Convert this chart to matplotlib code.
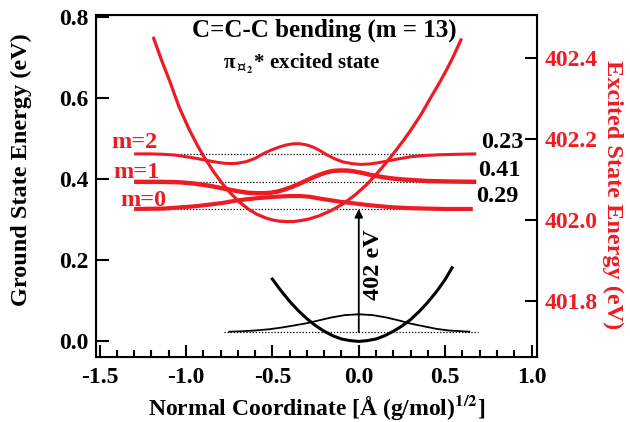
import numpy as np
import matplotlib
matplotlib.use('Agg')
import matplotlib.pyplot as plt

plt.rcParams['font.family'] = ['Liberation Serif', 'DejaVu Serif']
plt.rcParams['font.weight'] = 'bold'
plt.rcParams['axes.labelweight'] = 'bold'
plt.rcParams['mathtext.fontset'] = 'stix'
plt.rcParams['lines.solid_joinstyle'] = 'round'

red = '#ed1c24'

#Excited state potential (left axis units, eV)
x_exc = [-1.19, -1.14, -1.09, -1.04, -0.98, -0.93, -0.89, -0.84, -0.79, -0.74, -0.69, -0.64,
         -0.59, -0.54, -0.50, -0.46, -0.42, -0.38, -0.34, -0.29, -0.23, -0.16, -0.09, -0.02,
         0.05, 0.10, 0.16, 0.21, 0.26, 0.30, 0.36, 0.43, 0.47, 0.51, 0.55, 0.595]
y_exc = [0.751, 0.692, 0.637, 0.578, 0.521, 0.480, 0.451, 0.418, 0.389, 0.364, 0.343, 0.326,
         0.313, 0.304, 0.299, 0.296, 0.295, 0.295, 0.297, 0.301, 0.309, 0.322, 0.339, 0.361,
         0.388, 0.411, 0.441, 0.468, 0.496, 0.520, 0.559, 0.611, 0.640, 0.671, 0.705, 0.747]

#Vibrational levels of the excited state
lev = [0.326, 0.393, 0.462]
lev_names = ['m=0', 'm=1', 'm=2']
lev_fc = ['0.29', '0.41', '0.23']

x_m0 = [-1.30, -1.13, -1.03, -0.94, -0.86, -0.785, -0.72, -0.65, -0.58, -0.515, -0.45, -0.40,
        -0.34, -0.28, -0.23, -0.17, -0.11, -0.03, 0.045, 0.12, 0.20, 0.30, 0.39, 0.50, 0.66]
y_m0 = [0.326, 0.327, 0.330, 0.333, 0.337, 0.341, 0.346, 0.350, 0.353, 0.355, 0.357, 0.358,
        0.358, 0.356, 0.352, 0.348, 0.344, 0.340, 0.336, 0.333, 0.330, 0.328, 0.327, 0.326, 0.326]

x_m1 = [-1.30, -1.15, -1.04, -0.98, -0.92, -0.86, -0.80, -0.74, -0.69, -0.64, -0.59, -0.55,
        -0.51, -0.47, -0.43, -0.39, -0.35, -0.31, -0.27, -0.23, -0.19, -0.15, -0.11, -0.07,
        -0.03, 0.02, 0.07, 0.12, 0.18, 0.25, 0.32, 0.40, 0.50, 0.68]
y_m1 = [0.393, 0.393, 0.392, 0.390, 0.387, 0.383, 0.378, 0.373, 0.369, 0.366, 0.365, 0.365,
        0.366, 0.369, 0.374, 0.380, 0.387, 0.395, 0.403, 0.410, 0.416, 0.420, 0.421, 0.421,
        0.419, 0.415, 0.410, 0.406, 0.402, 0.399, 0.397, 0.395, 0.394, 0.393]

x_m2 = [-1.30, -1.20, -1.13, -1.06, -1.00, -0.94, -0.88, -0.83, -0.78, -0.74, -0.70, -0.65,
        -0.60, -0.555, -0.51, -0.46, -0.42, -0.38, -0.34, -0.30, -0.26, -0.22, -0.19, -0.14,
        -0.09, -0.04, 0.01, 0.06, 0.11, 0.16, 0.22, 0.30, 0.38, 0.47, 0.57, 0.68]
y_m2 = [0.462, 0.462, 0.461, 0.459, 0.455, 0.451, 0.446, 0.442, 0.439, 0.438, 0.439, 0.443,
        0.451, 0.462, 0.471, 0.479, 0.484, 0.487, 0.487, 0.484, 0.478, 0.469, 0.461, 0.450,
        0.442, 0.438, 0.436, 0.437, 0.440, 0.444, 0.449, 0.455, 0.458, 0.460, 0.461, 0.462]

#Ground state potential and wavefunction
x_gs = [-0.50, -0.45, -0.40, -0.35, -0.30, -0.25, -0.20, -0.15, -0.10, -0.05, 0.0,
        0.05, 0.10, 0.15, 0.20, 0.25, 0.30, 0.35, 0.40, 0.45, 0.50, 0.54]
y_gs = [0.153, 0.124, 0.098, 0.075, 0.055, 0.038, 0.024, 0.013, 0.005, 0.001, -0.001,
        0.001, 0.005, 0.013, 0.024, 0.037, 0.053, 0.073, 0.096, 0.122, 0.152, 0.181]

x_gw = [-0.75, -0.68, -0.60, -0.52, -0.45, -0.38, -0.30, -0.23, -0.16, -0.08, 0.0,
        0.08, 0.16, 0.23, 0.30, 0.38, 0.45, 0.52, 0.60, 0.64]
y_gw = [0.023, 0.024, 0.026, 0.029, 0.033, 0.038, 0.044, 0.051, 0.058, 0.064, 0.066,
        0.064, 0.058, 0.051, 0.043, 0.036, 0.030, 0.026, 0.024, 0.023]
gs_lev = 0.022

offset = 401.701 #right axis = left axis + offset

fig = plt.figure(figsize=(6.3, 4.22), dpi=100)
ax = fig.add_axes([0.152, 0.154, 0.7, 0.8105])

#dotted level lines
ax.plot([-1.18, 0.55], [lev[0]]*2, color='k', lw=0.9, ls=(0, (1, 1.5)))
ax.plot([-1.30, 0.60], [lev[1]]*2, color='k', lw=0.9, ls=(0, (1, 1.5)))
ax.plot([-1.25, 0.62], [lev[2]]*2, color='k', lw=0.9, ls=(0, (1, 1.5)))
ax.plot([-0.78, 0.69], [gs_lev]*2, color='k', lw=0.9, ls=(0, (1, 1.5)))

#red curves
ax.plot(x_exc, y_exc, color=red, lw=2.3, solid_capstyle='butt')
ax.plot(x_m0, y_m0, color=red, lw=3.0, solid_capstyle='butt')
ax.plot(x_m1, y_m1, color=red, lw=3.2, solid_capstyle='butt')
ax.plot(x_m2, y_m2, color=red, lw=2.2, solid_capstyle='butt')

#black curves
ax.plot(x_gs, y_gs, color='k', lw=2.2)
ax.plot(x_gw, y_gw, color='k', lw=1.3)

#transition arrow
ax.annotate('', xy=(0, 0.326), xytext=(0, gs_lev),
            arrowprops=dict(arrowstyle='-|>', color='k', lw=1.3, mutation_scale=12,
                            shrinkA=0, shrinkB=0))
ax.text(0.085, 0.188, '402 eV', rotation=90, ha='center', va='center', fontsize=17.5)

#labels
xs_name = [-1.244, -1.285, -1.296]
ys_name = [0.348, 0.417, 0.489]
for xn, yn, t in zip(xs_name, ys_name, lev_names):
    ax.text(xn, yn, t, color=red, ha='center', va='center', fontsize=17.5)
xs_fc = [0.804, 0.816, 0.828]
ys_fc = [0.356, 0.422, 0.489]
for xn, yn, t in zip(xs_fc, ys_fc, lev_fc):
    ax.text(xn, yn, t, color='k', ha='center', va='center', fontsize=17.5)

ax.text(-0.2, 0.768, 'C=C-C bending (m = 13)', ha='center', va='center', fontsize=18)
ax.text(-0.33, 0.683, r'π$_{\perp_2}$* excited state', ha='center', va='center', fontsize=15)

ax.set_xlim(-1.522, 1.03)
ax.set_ylim(-0.0395, 0.805)
ax.set_xticks([-1.5, -1.0, -0.5, 0.0, 0.5, 1.0])
ax.set_xticks(np.arange(-1.5, 1.05, 0.1), minor=True)
ax.set_yticks([0.0, 0.2, 0.4, 0.6, 0.8])
ax.xaxis.set_major_formatter(matplotlib.ticker.FormatStrFormatter('%.1f'))
ax.yaxis.set_major_formatter(matplotlib.ticker.FormatStrFormatter('%.1f'))
ax.tick_params(axis='both', which='both', direction='in', labelsize=17, width=1.5)
ax.tick_params(axis='x', which='major', length=9, pad=7)
ax.tick_params(axis='x', which='minor', length=5)
ax.tick_params(axis='y', which='major', length=9, pad=5)
ax.tick_params(axis='x', top=False)
for s in ax.spines.values():
    s.set_linewidth(1.5)

ax.set_xlabel(r'Normal Coordinate [Å (g/mol)$^{\mathbf{1/2}}$]', fontsize=17, va='center')
ax.set_ylabel('Ground State Energy (eV)', fontsize=17.5, va='center')
ax.xaxis.set_label_coords(0.5, -0.149)
ax.yaxis.set_label_coords(-0.168, 0.547)

#Excited state energy axis
ax2 = ax.twinx()
ax2.set_ylim(-0.0395 + offset, 0.805 + offset)
ax2.set_yticks([401.8, 402.0, 402.2, 402.4])
ax2.yaxis.set_major_formatter(matplotlib.ticker.FormatStrFormatter('%.1f'))
ax2.tick_params(axis='y', direction='in', length=9, width=1.5, labelsize=17, labelcolor=red, pad=6)
ax2.set_ylabel('Excited State Energy (eV)', color=red, fontsize=17.5, rotation=270, va='center')
ax2.yaxis.set_label_coords(1.172, 0.474)

fig.savefig('out.png', dpi=100)
